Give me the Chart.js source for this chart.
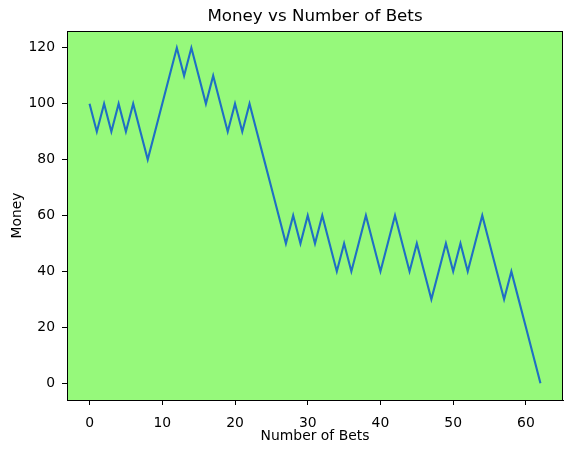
<!DOCTYPE html>
<html>
<head>
<meta charset="utf-8">
<script src="https://cdn.jsdelivr.net/npm/chart.js@4.4.1/dist/chart.umd.min.js"></script>
<style>
  html, body { margin: 0; padding: 0; background: #ffffff; }
  canvas { display: block; }
</style>
</head>
<body>
<canvas id="ctx" width="571" height="453"></canvas>
<script>

// data
var bets = [0,1,2,3,4,5,6,7,8,9,10,11,12,13,14,15,16,17,18,19,20,
            21,22,23,24,25,26,27,28,29,30,31,32,33,34,35,36,37,38,39,40,
            41,42,43,44,45,46,47,48,49,50,51,52,53,54,55,56,57,58,59,60,61,62];
var money = [100,90,100,90,100,90,100,90,80,90,100,110,120,110,120,110,100,110,100,90,100,
             90,100,90,80,70,60,50,60,50,60,50,60,50,40,50,40,50,60,50,40,
             50,60,50,40,50,40,30,40,50,40,50,40,50,60,50,40,30,40,30,20,10,0];
var xTicks = [0,10,20,30,40,50,60];
var yTicks = [0,20,40,60,80,100,120];

var points = [];
for (var i = 0; i < bets.length; i++) {
  points.push({x: bets[i], y: money[i]});
}

var fontFam = "'DejaVu Sans', sans-serif";

// green plot area + full frame
var frame = {
  id: 'frame',
  beforeDraw: function (chart) {
    var a = chart.chartArea, c = chart.ctx;
    c.save();
    c.fillStyle = '#96f97b';
    c.fillRect(a.left, a.top, a.right - a.left, a.bottom - a.top);
    c.restore();
  },
  afterDraw: function (chart) {
    var a = chart.chartArea, c = chart.ctx;
    c.save();
    c.strokeStyle = '#000';
    c.lineWidth = 1;
    c.strokeRect(Math.round(a.left) + 0.5, Math.round(a.top) + 0.5,
                 Math.round(a.right - a.left) - 1, Math.round(a.bottom - a.top));
    c.restore();
  }
};

var moneyChart = new Chart(document.getElementById('ctx'), {
  type: 'line',
  data: {
    datasets: [{
      data: points,
      borderColor: '#1f6fc4',
      borderWidth: 2.1,
      pointRadius: 0,
      tension: 0,
      fill: false
    }]
  },
  options: {
    responsive: false,
    animation: false,
    devicePixelRatio: 1,
    layout: { padding: { left: 0, right: 8, top: 0, bottom: 0 } },
    plugins: {
      legend: { display: false },
      tooltip: { enabled: false },
      title: {
        display: true,
        text: 'Money vs Number of Bets',
        fullSize: false,
        color: '#000',
        font: { family: fontFam, size: 16.7, weight: 'normal', lineHeight: 1.2 },
        padding: { top: 7, bottom: 4 }
      }
    },
    scales: {
      x: {
        type: 'linear',
        min: -3.1,
        max: 65.1,
        afterBuildTicks: function (s) { s.ticks = xTicks.map(function (v) { return {value: v}; }); },
        afterFit: function (s) { s.height = 53; },
        grid: { drawOnChartArea: false, tickLength: 5, tickColor: '#000', tickWidth: 1 },
        border: { color: '#000', width: 1 },
        ticks: { color: '#000', padding: 10, maxRotation: 0, font: { family: fontFam, size: 13.9 } },
        title: {
          display: true,
          text: 'Number of Bets',
          color: '#000',
          font: { family: fontFam, size: 13.9 },
          padding: { top: 0, bottom: 8 }
        }
      },
      y: {
        min: -6,
        max: 126,
        afterBuildTicks: function (s) { s.ticks = yTicks.map(function (v) { return {value: v}; }); },
        afterFit: function (s) { s.width = 67; },
        grid: { drawOnChartArea: false, tickLength: 5, tickColor: '#000', tickWidth: 1 },
        border: { color: '#000', width: 1 },
        ticks: { color: '#000', padding: 7, font: { family: fontFam, size: 13.9 } },
        title: {
          display: true,
          text: 'Money',
          color: '#000',
          font: { family: fontFam, size: 13.9 },
          padding: { top: 9, bottom: 0 }
        }
      }
    }
  },
  plugins: [frame]
});

</script>
</body>
</html>
